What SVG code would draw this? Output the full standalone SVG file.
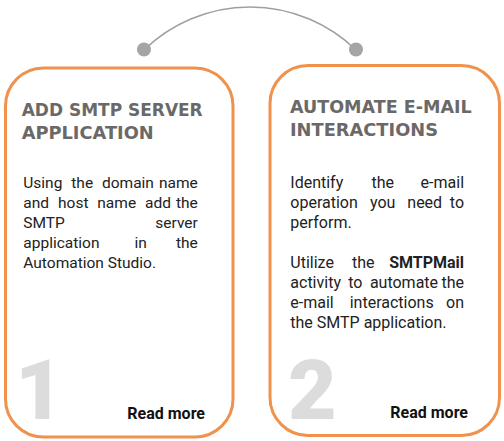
<svg xmlns="http://www.w3.org/2000/svg" width="504" height="441" viewBox="0 0 504 441">
<style>
.box{fill:#fff;stroke:#f0914c;stroke-width:3}
.title{font-family:"DejaVu Sans",Verdana,sans-serif;font-weight:bold;font-size:18.5px;fill:#6b6868}
.body{font-family:Roboto,"Liberation Sans",sans-serif;font-size:15.5px;fill:#222}
.body2{font-family:Roboto,"Liberation Sans",sans-serif;font-size:16px;fill:#222}
.b{font-weight:bold}
.num{font-family:Roboto,"Liberation Sans",sans-serif;font-weight:900;font-size:84px;fill:#dcdcdc}
.more{font-family:Roboto,"Liberation Sans",sans-serif;font-weight:bold;font-size:16px;fill:#111}
.dot{fill:#a5a5a5}
.arc{fill:none;stroke:#9f9f9f;stroke-width:1.5}
</style>
<g id="connectors">
<path class="arc" d="M144,50 A152,152 0 0 1 356,50"/>
<circle class="dot" cx="144" cy="49.5" r="7"/>
<circle class="dot" cx="356" cy="49.5" r="7"/>
</g>
<g id="step1">
<rect class="box" x="5.5" y="68" width="227.5" height="369" rx="38"/>
<text class="title" x="21.7" y="115.5" textLength="181" lengthAdjust="spacingAndGlyphs">ADD SMTP SERVER</text>
<text class="title" x="21.7" y="138.5" textLength="132" lengthAdjust="spacingAndGlyphs">APPLICATION</text>
<text class="body">
<tspan x="23.3" y="187.5">Using</tspan><tspan x="71.3">the</tspan><tspan x="102">domain</tspan><tspan x="201.7" text-anchor="end">name</tspan>
<tspan x="23.3" y="207.5">and</tspan><tspan x="58">host</tspan><tspan x="97.3">name</tspan><tspan x="145">add</tspan><tspan x="201.7" text-anchor="end">the</tspan>
<tspan x="23.3" y="227.5">SMTP</tspan><tspan x="201.7" text-anchor="end">server</tspan>
<tspan x="23.3" y="247.5">application</tspan><tspan x="134.5">in</tspan><tspan x="201.7" text-anchor="end">the</tspan>
<tspan x="23.3" y="267.5">Automation Studio.</tspan>
</text>
<text class="num" x="15" y="419">1</text>
<text class="more" x="205" y="419" text-anchor="end">Read more</text>
</g>
<g id="step2">
<rect class="box" x="270" y="65.5" width="229.5" height="370" rx="38"/>
<text class="title" x="290" y="113" textLength="181.7" lengthAdjust="spacingAndGlyphs">AUTOMATE E-MAIL</text>
<text class="title" x="290" y="135.5" textLength="148" lengthAdjust="spacingAndGlyphs">INTERACTIONS</text>
<text class="body2">
<tspan x="290.3" y="187.5">Identify</tspan><tspan x="371.5">the</tspan><tspan x="468" text-anchor="end">e-mail</tspan>
<tspan x="290.3" y="207.5">operation</tspan><tspan x="370">you</tspan><tspan x="407.3">need</tspan><tspan x="468" text-anchor="end">to</tspan>
<tspan x="290.3" y="227.5">perform.</tspan>
<tspan x="290.3" y="268">Utilize</tspan><tspan x="352">the</tspan><tspan class="b" x="468" text-anchor="end">SMTPMail</tspan>
<tspan x="290.3" y="288">activity</tspan><tspan x="348.2">to</tspan><tspan x="369.9">automate</tspan><tspan x="468" text-anchor="end">the</tspan>
<tspan x="290.3" y="308">e-mail</tspan><tspan x="349.7">interactions</tspan><tspan x="468" text-anchor="end">on</tspan>
<tspan x="290.3" y="328">the SMTP application.</tspan>
</text>
<text class="num" x="288" y="419">2</text>
<text class="more" x="468" y="418" text-anchor="end">Read more</text>
</g>
</svg>
